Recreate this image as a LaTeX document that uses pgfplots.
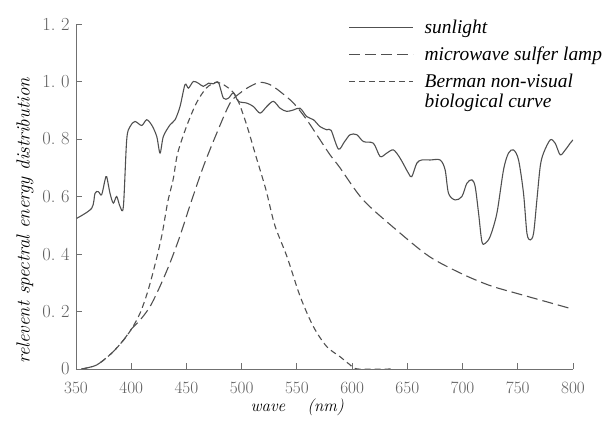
\documentclass[border=0pt]{standalone}
\usepackage{fontspec}
\usepackage{pgfplots}
\pgfplotsset{compat=1.18}
\newfontfamily\legfont{Liberation Serif}
\definecolor{ink}{HTML}{505050}
\definecolor{tickink}{HTML}{606060}
\definecolor{axgray}{HTML}{707070}

\begin{document}
\begin{tikzpicture}
\useasboundingbox (0,0) rectangle (614bp,422bp);
\begin{axis}[
    at={(76bp,53bp)}, anchor=south west,
    scale only axis, width=497bp, height=345bp,
    xmin=350, xmax=800, ymin=0, ymax=1.2,
    axis x line*=bottom, axis y line*=left,
    axis line style={axgray, line width=0.9pt},
    tick style={axgray, line width=0.9pt},
    tick align=inside, major tick length=6bp,
    xtick={350,400,450,500,550,600,650,700,750,800},
    ytick={0,0.2,0.4,0.6,0.8,1.0,1.2},
    yticklabels={0,0.\ 2,0.\ 4,0.\ 6,0.\ 8,1.\ 0,1.\ 2},
    tick label style={font=\fontsize{18.5}{20}\selectfont, text=tickink},
    xticklabel style={yshift=-10bp},
    yticklabel style={xshift=-3bp},
    xlabel={\textit{wave}\hspace{1.3em}\textit{(nm)}},
    xlabel style={font=\fontsize{17}{20}\selectfont, at={(ticklabel cs:0.445)}, anchor=north, yshift=2bp},
    ylabel={\textit{relevent spectral energy distribution}},
    ylabel style={font=\fontsize{19}{21}\selectfont, at={(ticklabel cs:0.43)}, yshift=2bp},
    legend style={at={(rel axis cs:0.548,1.015)}, anchor=north west, draw=none, fill=none,
        font=\legfont\itshape\fontsize{19.5}{21}\selectfont, row sep=10bp, inner sep=0pt,
        nodes={inner sep=1bp},
        /tikz/every odd column/.style={column sep=10bp}},
    legend cell align=left,
    legend image code/.code={\draw[#1] (0bp,0bp) -- (64bp,0bp);},
    every axis plot/.append style={ink, line width=1.1pt},
]
% sunlight
\addplot[smooth, tension=0.5] coordinates {
(350.6,0.524)(364.2,0.559)(367.2,0.611)(370.2,0.617)(373.2,0.606)(376.3,0.658)
(377.8,0.669)(380.8,0.611)(383.8,0.577)(386.8,0.600)(389.9,0.565)(392.9,0.565)
(395.9,0.797)(398.9,0.843)(403.4,0.861)(409.5,0.847)(414.0,0.867)(418.5,0.849)
(423.1,0.809)(426.1,0.751)(429.1,0.809)(435.1,0.849)(439.7,0.867)(444.2,0.913)
(448.7,0.989)(451.8,0.977)(456.3,1.0)(460.8,0.994)(465.3,0.983)(469.9,0.994)
(474.4,0.992)(478.9,0.997)(483.5,0.942)(488.0,0.942)(492.5,0.960)(497.0,0.931)
(504.6,0.925)(510.6,0.913)(516.7,0.890)(522.7,0.913)(528.7,0.931)(534.8,0.907)
(540.8,0.896)(546.9,0.901)(552.9,0.907)(558.9,0.878)(565.0,0.867)(571.0,0.843)
(577.1,0.832)(581.0,0.830)(587.6,0.765)(593.0,0.790)(598.2,0.815)(604.2,0.815)
(610.3,0.791)(619.3,0.785)(625.4,0.739)(631.4,0.751)(637.4,0.762)(643.5,0.733)
(651.0,0.681)(654.0,0.669)(658.6,0.716)(663.1,0.727)(670.6,0.727)(679.7,0.727)
(684.2,0.693)(687.3,0.611)(693.3,0.588)(699.4,0.600)(703.9,0.646)(708.4,0.658)
(711.4,0.635)(714.5,0.542)(717.5,0.443)(720.5,0.437)(725.0,0.461)(731.1,0.542)
(737.1,0.693)(741.6,0.751)(746.2,0.762)(750.7,0.727)(755.2,0.611)(758.3,0.472)
(761.3,0.449)(764.3,0.472)(767.3,0.588)(770.3,0.704)(773.3,0.751)(779.4,0.797)
(783.9,0.785)(788.4,0.745)(793.0,0.762)(797.4,0.785)(800.0,0.797)
};
\addlegendentry{sunlight}
% microwave sulfur lamp
\addplot[smooth, dash pattern=on 11bp off 5bp] coordinates {
(355,0.0)(368.7,0.014)(382.3,0.055)(392.9,0.10)(400.4,0.14)(408,0.17)(417,0.217)
(426,0.287)(435,0.368)(444,0.461)(453.3,0.57)(465.3,0.704)(477.4,0.82)(489.5,0.925)
(498.6,0.96)(507.6,0.983)(516.7,0.997)(525.7,0.989)(534.8,0.965)(546.9,0.925)
(558.9,0.867)(571,0.797)(580,0.745)(589,0.70)(610,0.588)(640,0.484)(670,0.391)
(700,0.33)(725,0.29)(750,0.262)(775,0.235)(800,0.208)
};
\addlegendentry{microwave sulfer lamp}
% Berman non-visual biological curve
\addplot[smooth, dash pattern=on 6bp off 4bp] coordinates {
(355,0.0)(368.7,0.014)(382.3,0.055)(392.9,0.10)(400.4,0.14)(408,0.194)(415,0.27)
(422,0.37)(428,0.47)(433,0.58)(438,0.66)(442,0.75)(450,0.843)(459,0.925)(468,0.977)
(477,0.997)(486,0.983)(495,0.948)(504,0.855)(513,0.739)(522,0.623)(530,0.50)
(541,0.391)(553,0.252)(565,0.147)(577,0.078)(589,0.043)(598,0.015)(605,0.0)(635,0.0)
};
\addlegendentry{\rlap{\smash{\raisebox{-20bp}{biological curve}}}Berman non-visual}
\end{axis}
\end{tikzpicture}
\end{document}
